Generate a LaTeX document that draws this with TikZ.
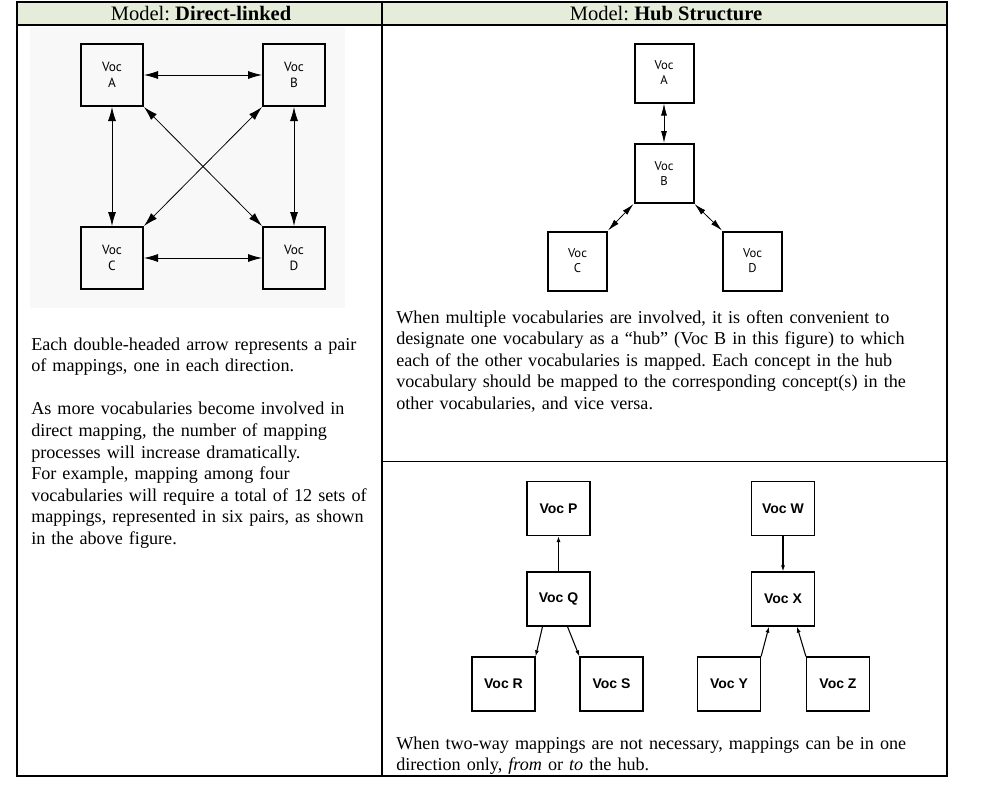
\documentclass[tikz,border=0pt]{standalone}
\usepackage{fontspec}
\setmainfont{Liberation Serif}
\newfontfamily\vocfont{PT Sans}
\newfontfamily\boxfont{Liberation Sans}
\usetikzlibrary{arrows.meta}
\definecolor{cabecera}{RGB}{229,237,218}
\definecolor{fondo}{RGB}{248,248,248}
\frenchspacing

\begin{document}
\begin{tikzpicture}[x=0.75pt,y=-0.75pt,
  voc/.style={draw,line width=1.5pt,minimum width=46.5pt,minimum height=46.5pt,inner sep=0pt,align=center,
    font=\vocfont\fontsize{10pt}{12pt}\selectfont},
  hub/.style={draw,line width=1.5pt,minimum width=44.25pt,minimum height=44.25pt,inner sep=0pt,align=center,
    font=\vocfont\fontsize{9.5pt}{11.3pt}\selectfont},
  uni/.style={draw,line width=0.9pt,minimum width=47.25pt,minimum height=40.5pt,inner sep=0pt,
    font=\boxfont\bfseries\fontsize{10.5pt}{12pt}\selectfont},
  doble/.style={line width=0.6pt,{Latex[length=10.5pt,width=6pt]}-{Latex[length=10.5pt,width=6pt]}},
  doblec/.style={line width=0.6pt,{Latex[length=9pt,width=4.5pt]}-{Latex[length=9pt,width=4.5pt]}},
  simple/.style={line width=0.8pt,-{Latex[length=4.5pt,width=3pt]}},
  texto/.style={anchor=base west,inner sep=0pt,text width=420pt,align=left,
    font=\fontsize{13.6pt}{16.2pt}\selectfont},
  titulo/.style={anchor=base,inner sep=0pt,font=\fontsize{15.4pt}{17pt}\selectfont}]
\useasboundingbox (0,0) rectangle (981,804);

% Tabla
\fill[cabecera] (17,2) rectangle (947,25);
\fill[fondo] (30,27) rectangle (345,308);
\draw[line width=1.2pt] (17,2) rectangle (947,776);
\draw[line width=1.2pt] (17,25) -- (947,25);
\draw[line width=1.2pt] (382,2) -- (382,776);
\draw[line width=1.2pt] (382,461.5) -- (947,461.5);
\node[titulo] (tituloD) at (201,20) {Model: \textbf{Direct-linked}};
\node[titulo] (tituloH) at (666,20) {Model: \textbf{Hub Structure}};

% Modelo directo
\node[voc] (dA) at (112,75) {Voc\\A};
\node[voc] (dB) at (294,75) {Voc\\B};
\node[voc] (dC) at (112,258) {Voc\\C};
\node[voc] (dD) at (294,258) {Voc\\D};
\draw[doble] (dA) -- (dB);
\draw[doble] (dC) -- (dD);
\draw[doble] (dA) -- (dC);
\draw[doble] (dB) -- (dD);
\draw[doble] (dA.south east) -- (dD.north west);
\draw[doble] (dB.south west) -- (dC.north east);

% Modelo hub
\node[hub] (hA) at (664,73) {Voc\\A};
\node[hub] (hB) at (664,173.5) {Voc\\B};
\node[hub] (hC) at (577.5,261) {Voc\\C};
\node[hub] (hD) at (752.5,261) {Voc\\D};
\draw[doblec] (hA) -- (hB);
\draw[doblec] (hB.south west) -- (hC.north east);
\draw[doblec] (hB.south east) -- (hD.north west);

% Un solo sentido
\node[uni] (uP) at (558.5,508.5) {Voc P};
\node[uni] (uQ) at (558.5,599) {Voc Q};
\node[uni] (uR) at (503.5,684) {Voc R};
\node[uni] (uS) at (611.5,684) {Voc S};
\node[uni] (uW) at (783,508.5) {Voc W};
\node[uni] (uX) at (783,599) {Voc X};
\node[uni] (uY) at (729,684) {Voc Y};
\node[uni] (uZ) at (838,684) {Voc Z};
\draw[simple] (uQ) -- (uP);
\draw[simple] ([xshift=-12pt]uQ.south) -- (uR.north east);
\draw[simple] ([xshift=6.75pt]uQ.south) -- (uS.north west);
\draw[simple] (uW) -- (uX);
\draw[simple] (uY.north east) -- ([xshift=-10.5pt]uX.south);
\draw[simple] (uZ.north west) -- ([xshift=10.5pt]uX.south);

% Textos
\node[texto] (txtD) at (31,350) {Each double-headed arrow represents a pair\\
  of mappings, one in each direction.\\[16.2pt]
  As more vocabularies become involved in\\
  direct mapping, the number of mapping\\
  processes will increase dramatically.\\
  For example, mapping among four\\
  vocabularies will require a total of 12 sets of\\
  mappings, represented in six pairs, as shown\\
  in the above figure.};
\node[texto] (txtH) at (396,323) {When multiple vocabularies are involved, it is often convenient to\\
  designate one vocabulary as a ``hub'' (Voc B in this figure) to which\\
  each of the other vocabularies is mapped. Each concept in the hub\\
  vocabulary should be mapped to the corresponding concept(s) in the\\
  other vocabularies, and vice versa.};
\node[texto] (txtU) at (396,749) {When two-way mappings are not necessary, mappings can be in one\\
  direction only, \textit{from} or \textit{to} the hub.};
\end{tikzpicture}
\end{document}
